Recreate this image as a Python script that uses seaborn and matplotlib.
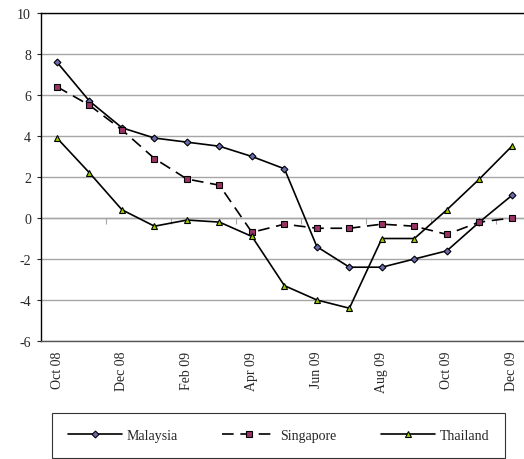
import numpy as np
import pandas as pd
import seaborn as sns
import matplotlib
matplotlib.use('Agg')
import matplotlib.pyplot as plt

months = ['Oct 08', 'Nov 08', 'Dec 08', 'Jan 09', 'Feb 09', 'Mar 09', 'Apr 09', 'May 09',
          'Jun 09', 'Jul 09', 'Aug 09', 'Sep 09', 'Oct 09', 'Nov 09', 'Dec 09']
malaysia = [7.6, 5.7, 4.4, 3.9, 3.7, 3.5, 3.0, 2.4, -1.4, -2.4, -2.4, -2.0, -1.6, -0.2, 1.1]
singapore = [6.4, 5.5, 4.3, 2.9, 1.9, 1.6, -0.7, -0.3, -0.5, -0.5, -0.3, -0.4, -0.8, -0.2, 0.0]
thailand = [3.9, 2.2, 0.4, -0.4, -0.1, -0.2, -0.9, -3.3, -4.0, -4.4, -1.0, -1.0, 0.4, 1.9, 3.5]

sns.set_style('white')
plt.rcParams['font.family'] = ['Liberation Serif', 'DejaVu Serif']
plt.rcParams['axes.unicode_minus'] = False

fig = plt.figure(figsize=(5.24, 4.6), dpi=100)
ax = fig.add_axes([0.0778, 0.2565, 0.93, 0.7131])

pos = np.arange(len(months))
df = pd.DataFrame({'pos': pos, 'Malaysia': malaysia, 'Singapore': singapore, 'Thailand': thailand})

sns.lineplot(data=df, x='pos', y='Malaysia', color='black', linewidth=1.2, marker='D',
             markersize=3.5, markerfacecolor='#6b6bb0', markeredgecolor='black',
             markeredgewidth=0.8, label='Malaysia', ax=ax)
sns.lineplot(data=df, x='pos', y='Singapore', color='black', linewidth=1.2, marker='s',
             markersize=4.5, markerfacecolor='#993366', markeredgecolor='black',
             markeredgewidth=0.8, label='Singapore', ax=ax)
ax.lines[-1].set_linestyle((0, (7, 4)))
sns.lineplot(data=df, x='pos', y='Thailand', color='black', linewidth=1.2, marker='^',
             markersize=4.5, markerfacecolor='#99cc00', markeredgecolor='black',
             markeredgewidth=0.8, label='Thailand', ax=ax)

ax.set_xlim(-0.5, len(months) - 0.5)
ax.set_ylim(-6, 10)
ax.set_yticks(np.arange(-6, 11, 2))
ax.yaxis.grid(True, color='#a6a6a6', linewidth=1)
ax.set_axisbelow(True)
ax.set_xlabel('')
ax.set_ylabel('')

ax.set_xticks(pos[::2])
ax.set_xticklabels(months[::2], rotation=90, fontsize=10)
ax.tick_params(axis='x', length=0, pad=7)
ax.tick_params(axis='y', length=3, width=0.8, direction='out', left=True, labelsize=10, pad=4)

for side in ['left', 'top']:
    ax.spines[side].set_color('black')
    ax.spines[side].set_linewidth(1)
ax.spines['bottom'].set_color('#555555')
ax.spines['bottom'].set_linewidth(1)
ax.spines['right'].set_visible(False)

# category axis crossing at zero with tick marks between groups
sec = ax.secondary_xaxis(6 / 16)
sec.set_xticks(pos[1:-1:2] + 0.5)
sec.set_xticklabels([])
sec.tick_params(length=4, width=0.8, color='#a6a6a6', direction='out')
sec.spines['bottom'].set_color('#a6a6a6')
sec.spines['bottom'].set_linewidth(1)

handles, labels = ax.get_legend_handles_labels()
ax.get_legend().remove()
leg = fig.legend(handles, labels, loc='center', ncol=3, bbox_to_anchor=(0.5315, 0.051),
                 fontsize=10, frameon=True, fancybox=False, handlelength=3.9,
                 handletextpad=0.3, columnspacing=3.2, borderpad=1.15, borderaxespad=0)
leg.get_frame().set_edgecolor('black')
leg.get_frame().set_linewidth(0.8)

fig.savefig('out.png', dpi=100)
